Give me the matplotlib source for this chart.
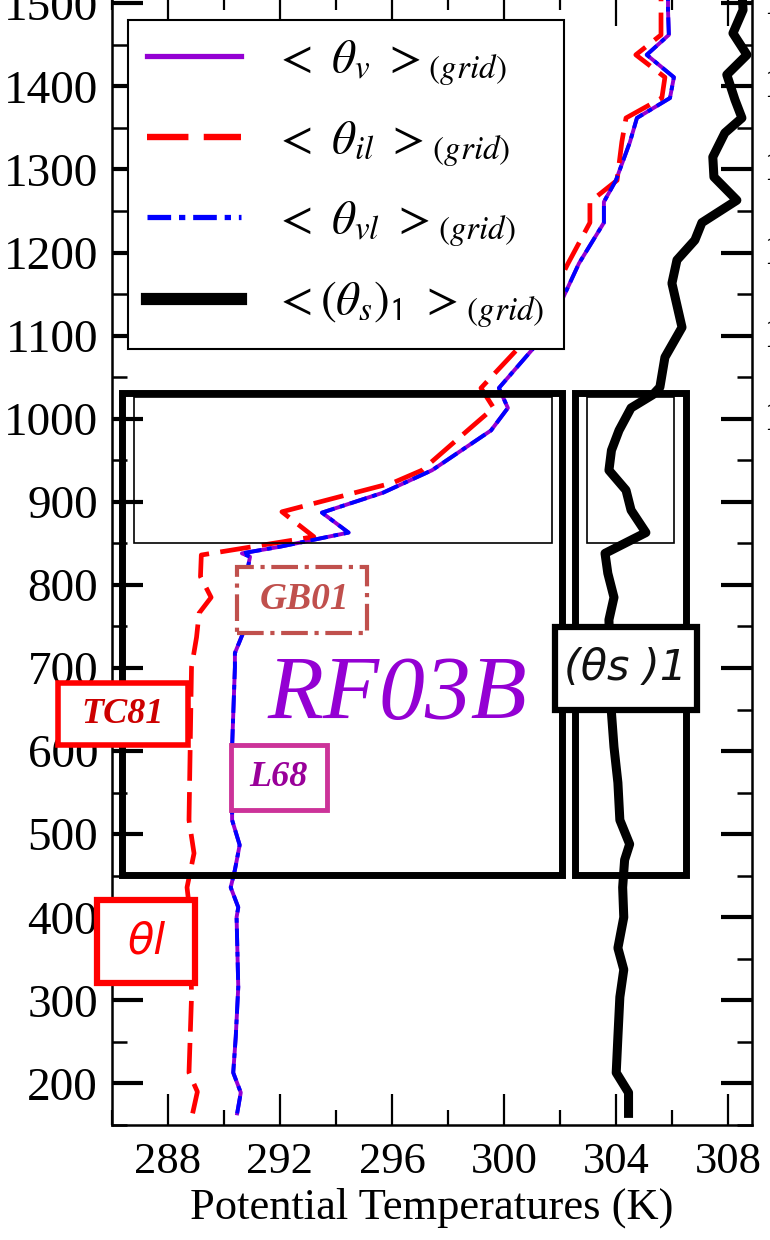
import matplotlib.pyplot as plt
from matplotlib.patches import Rectangle
from matplotlib.ticker import MultipleLocator

plt.rcParams['font.family'] = ['Liberation Serif', 'DejaVu Serif']
plt.rcParams['mathtext.fontset'] = 'stix'

# heights (m) and potential temperatures (K)
z_v = [164, 189, 213, 256, 316, 400, 412, 436, 457, 487, 517, 605, 701, 718,
       742, 780, 822, 834, 838, 846, 863, 887, 911, 938, 986, 1013, 1037,
       1091, 1131, 1187, 1236, 1261, 1287, 1333, 1362, 1386, 1411, 1438,
       1462, 1492, 1515]
theta_v = [290.47, 290.60, 290.33, 290.42, 290.51, 290.45, 290.51, 290.24,
           290.39, 290.56, 290.29, 290.29, 290.39, 290.39, 290.68, 290.79,
           290.86, 290.93, 290.64, 292.00, 294.45, 293.50, 295.68, 297.43,
           299.54, 300.14, 299.82, 301.21, 301.91, 302.68, 303.57, 303.57,
           304.00, 304.50, 304.75, 305.93, 306.07, 305.10, 305.89, 305.86,
           305.86]
theta_vl = [290.47, 290.60, 290.33, 290.42, 290.51, 290.45, 290.51, 290.24,
            290.39, 290.56, 290.29, 290.29, 290.39, 290.39, 290.68, 290.79,
            290.86, 290.93, 290.64, 292.00, 294.45, 293.50, 295.68, 297.43,
            299.54, 300.14, 299.82, 301.21, 301.91, 302.68, 303.57, 303.57,
            304.00, 304.50, 304.75, 305.93, 306.07, 305.10, 305.89, 305.86,
            305.86]

z_il = [164, 190, 213, 304, 400, 436, 477, 517, 701, 737, 766, 785, 810, 836,
        858, 888, 923, 938, 990, 1013, 1037, 1091, 1131, 1187, 1236, 1261,
        1287, 1333, 1362, 1386, 1411, 1438, 1462, 1492, 1515]
theta_il = [288.88, 289.05, 288.75, 288.84, 288.80, 288.68, 288.93, 288.75,
            288.84, 289.02, 289.11, 289.54, 289.16, 289.19, 293.21, 292.07,
            296.04, 297.07, 298.84, 299.63, 299.18, 300.68, 301.46, 302.29,
            303.07, 303.07, 304.04, 304.21, 304.36, 305.64, 305.75, 304.71,
            305.61, 305.61, 305.61]

z_s = [164, 189, 213, 256, 304, 337, 363, 400, 436, 469, 488, 517, 562, 605,
       646, 758, 785, 814, 838, 863, 890, 914, 938, 962, 986, 1013, 1029,
       1038, 1074, 1110, 1163, 1191, 1215, 1236, 1263, 1291, 1315, 1344,
       1362, 1384, 1414, 1438, 1464, 1492, 1515]
theta_s = [304.45, 304.45, 304.01, 304.07, 304.14, 304.28, 304.07, 304.28,
           304.24, 304.31, 304.49, 304.14, 304.07, 303.93, 303.84, 303.75,
           303.93, 303.71, 303.61, 305.07, 304.54, 304.36, 303.75, 303.84,
           304.11, 304.54, 305.32, 305.57, 305.75, 306.36, 306.00, 306.18,
           306.82, 307.07, 308.32, 307.50, 307.46, 307.89, 308.50, 308.25,
           307.96, 308.68, 308.18, 308.54, 308.50]

fig = plt.figure(figsize=(7.7, 12.4), dpi=100)
ax = fig.add_axes([112 / 770, 1 - 1125 / 1240, 640 / 770, 1130 / 1240])

ax.plot(theta_v, z_v, color='#9400D3', lw=2.8,
        label=r'$<\ \theta_{v}\ >_{(grid)}$')
ax.plot(theta_il, z_il, color='red', lw=3.4, dashes=(6.5, 2.4),
        label=r'$<\ \theta_{il}\ >_{(grid)}$')
ax.plot(theta_vl, z_v, color='blue', lw=2.8,
        dashes=(4.5, 1.5, 1.2, 1.5), label=r'$<\ \theta_{vl}\ >_{(grid)}$')
ax.plot(theta_s, z_s, color='black', lw=6.5,
        label=r'$<(\theta_{s})_{\mathsf{1}}\ >_{(grid)}$')

ax.set_xlim(286, 308.86)
ax.set_ylim(150, 1510)
ax.xaxis.set_major_locator(MultipleLocator(4))
ax.xaxis.set_minor_locator(MultipleLocator(2))
ax.yaxis.set_major_locator(MultipleLocator(100))
ax.yaxis.set_minor_locator(MultipleLocator(50))
ax.tick_params(which='both', direction='in', top=True, right=True)
ax.tick_params(axis='y', which='major', length=22, width=3, labelsize=34, pad=10)
ax.tick_params(axis='y', which='minor', length=11, width=1.8)
ax.tick_params(axis='x', which='major', length=22, width=1.6, labelsize=32, pad=12)
ax.tick_params(axis='x', which='minor', length=11, width=1.6)
for s in ax.spines.values():
    s.set_linewidth(1.8)
ax.set_xlabel('Potential Temperatures (K)', fontsize=32, labelpad=4)

leg = ax.legend(loc='upper left', bbox_to_anchor=(0.025, 0.978),
                borderaxespad=0, fontsize=34, handlelength=2.0,
                labelspacing=0.66, handletextpad=0.7, borderpad=0.4,
                fancybox=False, framealpha=1, edgecolor='black')
leg.get_frame().set_linewidth(1.5)
for h in leg.get_lines():
    h.set_linewidth(h.get_linewidth() * 1.35)

# boxes over the boundary layer
box_kw = dict(fill=False, clip_on=False, zorder=5)
ax.add_patch(Rectangle((286.36, 451), 302.07 - 286.36, 1031 - 451,
                       ec='black', lw=5, **box_kw))
ax.add_patch(Rectangle((286.8, 850), 301.7 - 286.8, 1026 - 850,
                       ec='black', lw=1.2, **box_kw))
ax.add_patch(Rectangle((302.54, 451), 306.5 - 302.54, 1031 - 451,
                       ec='black', lw=5, **box_kw))
ax.add_patch(Rectangle((302.95, 850), 306.07 - 302.95, 1026 - 850,
                       ec='black', lw=1.2, **box_kw))

lab_kw = dict(clip_on=False, zorder=6, fc='white')
ax.add_patch(Rectangle((290.46, 742), 295.11 - 290.46, 821.6 - 742,
                       ec='#C0504D', lw=3, ls='-.', **lab_kw))
ax.text(292.89, 782, 'GB01', color='#C0504D', fontsize=27, style='italic',
        weight='bold', ha='center', va='center', zorder=7)

ax.add_patch(Rectangle((284.07, 607.3), 288.71 - 284.07, 682 - 607.3,
                       ec='red', lw=4, **lab_kw))
ax.text(286.39, 644.6, 'TC81', color='#CC0000', fontsize=26, style='italic',
        weight='bold', ha='center', va='center', zorder=7)

ax.add_patch(Rectangle((290.25, 529.1), 293.68 - 290.25, 607.3 - 529.1,
                       ec='#CC3399', lw=3.5, **lab_kw))
ax.text(291.96, 568.8, 'L68', color='#990099', fontsize=26, style='italic',
        weight='bold', ha='center', va='center', zorder=7)

ax.add_patch(Rectangle((301.82, 649.5), 306.89 - 301.82, 749.3 - 649.5,
                       ec='black', lw=4.5, **lab_kw))
ax.text(304.36, 700, '(θs )1', color='#111111', fontsize=31, style='italic',
        family='DejaVu Sans', ha='center', va='center', zorder=7)

ax.add_patch(Rectangle((285.46, 320.9), 288.96 - 285.46, 420.8 - 320.9,
                       ec='red', lw=4.5, **lab_kw))
ax.text(287.21, 371.4, 'θl', color='red', fontsize=31, style='italic',
        family='DejaVu Sans', ha='center', va='center', zorder=7)

ax.text(296.21, 665, 'RF03B', color='#9400D3', fontsize=66, style='italic',
        ha='center', va='center', zorder=7)

# tick labels of the neighbouring panel, cut at the figure edge
for lab in [1000, 1100, 1200, 1300, 1400, 1500]:
    ax.text(309.25, lab, str(lab), fontsize=32, ha='left', va='center',
            clip_on=False)

fig.savefig('out.png', dpi=100)
